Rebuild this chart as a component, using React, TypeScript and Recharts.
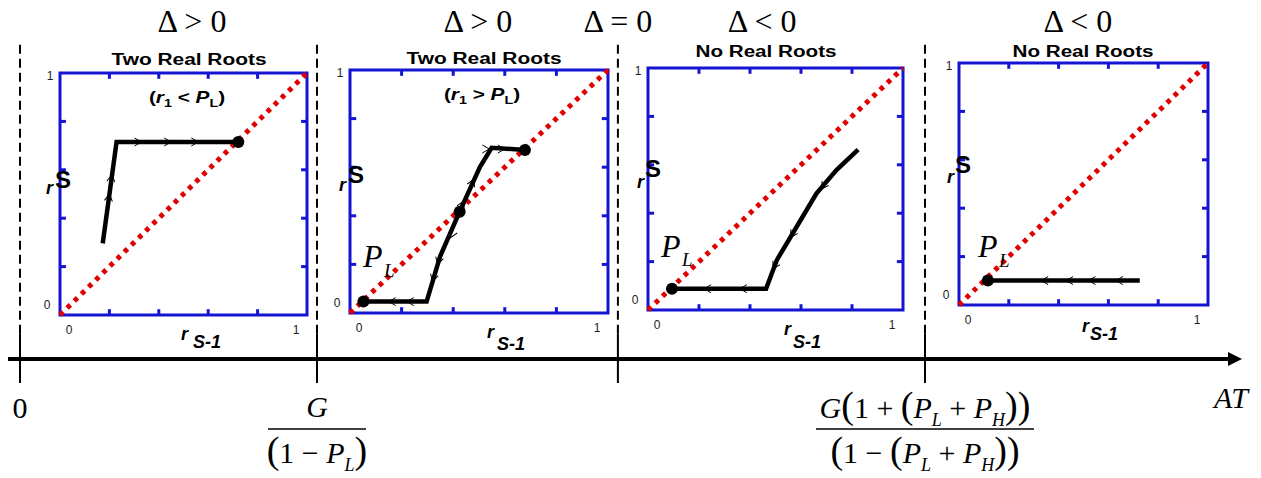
import React from 'react';
import {
  ComposedChart,
  Line,
  Scatter,
  XAxis,
  YAxis,
  ReferenceLine,
  ReferenceArea,
  ReferenceDot,
} from 'recharts';

// ---------------- DATA ----------------
// Main AT axis: regime boundaries (0, G/(1-PL), Δ=0 point, G(1+(PL+PH))/(1-(PL+PH)))
const atBoundaries = [0, 0.9845, 1.982, 3.0];
const atBoundaryKinds = ['zero', 'frac1', 'none', 'frac2'];
const atDomain: [number, number] = [-0.0398, 4.031];
// Δ labels above the panels
const deltaPositions = [0.57, 1.518, 1.982, 2.46, 3.507];
const deltaLabels = ['Δ > 0', 'Δ > 0', 'Δ = 0', 'Δ < 0', 'Δ < 0'];

// Inset panels (r_{S-1} vs r^S)
const innerTicks = [0.2, 0.4, 0.6, 0.8];
const diagonal = [
  { x: 0, y: 0 },
  { x: 1, y: 1 },
];
const path1 = [
  { x: 0.173, y: 0.296 },
  { x: 0.229, y: 0.715 },
  { x: 0.722, y: 0.715 },
];
const dots1 = [{ x: 0.722, y: 0.715 }];
const path2 = [
  { x: 0.052, y: 0.047 },
  { x: 0.297, y: 0.047 },
  { x: 0.349, y: 0.232 },
  { x: 0.425, y: 0.417 },
  { x: 0.504, y: 0.602 },
  { x: 0.549, y: 0.68 },
  { x: 0.678, y: 0.671 },
];
const dots2 = [
  { x: 0.052, y: 0.047 },
  { x: 0.425, y: 0.417 },
  { x: 0.678, y: 0.671 },
];
const path3 = [
  { x: 0.094, y: 0.088 },
  { x: 0.463, y: 0.088 },
  { x: 0.505, y: 0.206 },
  { x: 0.583, y: 0.344 },
  { x: 0.661, y: 0.482 },
  { x: 0.739, y: 0.578 },
  { x: 0.824, y: 0.663 },
];
const dots3 = [{ x: 0.094, y: 0.088 }];
const path4 = [
  { x: 0.116, y: 0.101 },
  { x: 0.726, y: 0.101 },
];
const dots4 = [{ x: 0.116, y: 0.101 }];
// direction chevrons along the trajectories (position + pointing angle in degrees, screen space)
const arrows1 = [
  { x: 0.2, y: 0.5, a: -82 },
  { x: 0.21, y: 0.58, a: -82 },
  { x: 0.33, y: 0.715, a: 0 },
  { x: 0.45, y: 0.715, a: 0 },
  { x: 0.56, y: 0.715, a: 0 },
];
const arrows2 = [
  { x: 0.15, y: 0.047, a: 180 },
  { x: 0.22, y: 0.047, a: 180 },
  { x: 0.32, y: 0.13, a: 105 },
  { x: 0.34, y: 0.2, a: 105 },
  { x: 0.39, y: 0.31, a: 115 },
  { x: 0.44, y: 0.46, a: -65 },
  { x: 0.48, y: 0.55, a: -65 },
  { x: 0.54, y: 0.675, a: 0 },
  { x: 0.6, y: 0.675, a: 0 },
];
const arrows3 = [
  { x: 0.22, y: 0.088, a: 180 },
  { x: 0.36, y: 0.088, a: 180 },
  { x: 0.49, y: 0.17, a: 120 },
  { x: 0.56, y: 0.3, a: 120 },
  { x: 0.68, y: 0.5, a: 125 },
];
const arrows4 = [
  { x: 0.33, y: 0.101, a: 180 },
  { x: 0.43, y: 0.101, a: 180 },
  { x: 0.52, y: 0.101, a: 180 },
  { x: 0.63, y: 0.101, a: 180 },
];
const panelTitles = ['Two Real Roots', 'Two Real Roots', 'No Real Roots', 'No Real Roots'];
const panelConditions = ['<', '>', '', ''];

// ---------------- STYLE / LAYOUT ----------------
const SERIF = '"Liberation Serif", "DejaVu Serif", serif';
const SANS = '"Liberation Sans", Arial, sans-serif';
const BLUE = '#1414D2';
const RED = '#E00000';

type Box = { l: number; t: number; r: number; b: number };
const panelBoxes: Box[] = [
  { l: 60, t: 73, r: 307, b: 315 },
  { l: 350, t: 70, r: 608, b: 313 },
  { l: 648, t: 68, r: 903, b: 310 },
  { l: 959, t: 63, r: 1208, b: 305 },
];
const panelSeries = [
  { path: path1, dots: dots1, arrows: arrows1 },
  { path: path2, dots: dots2, arrows: arrows2 },
  { path: path3, dots: dots3, arrows: arrows3 },
  { path: path4, dots: dots4, arrows: arrows4 },
];
const annot = [
  { tx: 189, ty: 65, tw: 155, sx: 187, sy: 103, rS: [46, 194, 55, 188], rS1: [181, 340, 193, 348], pl: null },
  { tx: 484, ty: 64, tw: 155, sx: 482, sy: 100, rS: [339, 191, 348, 183], rS1: [487, 338, 497, 350], pl: [363, 267, 384, 277] },
  { tx: 766, ty: 57, tw: 141, sx: 0, sy: 0, rS: [637, 188, 645, 177], rS1: [784, 335, 793, 348], pl: [661, 257, 682, 266] },
  { tx: 1083, ty: 57, tw: 141, sx: 0, sy: 0, rS: [947, 183, 955, 173], rS1: [1082, 332, 1090, 340], pl: [978, 257, 999, 267] },
];

const TICK_LEN = 0.024;

function Panel({ box, path, dots, arrows }: { box: Box; path: any[]; dots: any[]; arrows: any[] }) {
  const pad = 8;
  const w = box.r - box.l;
  const h = box.b - box.t;
  const seg = (a: number, b: number, c: number, d: number) => [
    { x: a, y: b },
    { x: c, y: d },
  ];
  return (
    <div style={{ position: 'absolute', left: box.l - pad, top: box.t - pad }}>
      <ComposedChart width={w + 2 * pad} height={h + 2 * pad} margin={{ top: pad, right: pad, bottom: pad, left: pad }}>
        <XAxis type="number" dataKey="x" domain={[0, 1]} hide />
        <YAxis type="number" dataKey="y" domain={[0, 1]} hide />
        <ReferenceArea x1={0} x2={1} y1={0} y2={1} fill="none" fillOpacity={0} stroke={BLUE} strokeWidth={3} />
        {innerTicks.map((t) => (
          <ReferenceLine key={'b' + t} segment={seg(t, 0, t, TICK_LEN)} stroke={BLUE} strokeWidth={3} />
        ))}
        {innerTicks.map((t) => (
          <ReferenceLine key={'t' + t} segment={seg(t, 1, t, 1 - TICK_LEN)} stroke={BLUE} strokeWidth={3} />
        ))}
        {innerTicks.map((t) => (
          <ReferenceLine key={'l' + t} segment={seg(0, t, TICK_LEN, t)} stroke={BLUE} strokeWidth={3} />
        ))}
        {innerTicks.map((t) => (
          <ReferenceLine key={'r' + t} segment={seg(1, t, 1 - TICK_LEN, t)} stroke={BLUE} strokeWidth={3} />
        ))}
        <Line
          data={diagonal}
          dataKey="y"
          stroke={RED}
          strokeWidth={5}
          strokeDasharray="4.5 5.5"
          dot={false}
          activeDot={false}
          isAnimationActive={false}
        />
        <Line
          data={path}
          dataKey="y"
          stroke="#000"
          strokeWidth={4.5}
          dot={false}
          activeDot={false}
          isAnimationActive={false}
        />
        <Scatter
          data={arrows}
          dataKey="y"
          isAnimationActive={false}
          shape={(p: any) => (
            <path
              d={`M ${p.cx - 7} ${p.cy - 4} L ${p.cx} ${p.cy} L ${p.cx - 7} ${p.cy + 4}`}
              transform={`rotate(${p.payload.a} ${p.cx} ${p.cy})`}
              fill="none"
              stroke="#000"
              strokeWidth={1}
            />
          )}
        />
        <Scatter
          data={dots}
          dataKey="y"
          isAnimationActive={false}
          shape={(p: any) => <circle cx={p.cx} cy={p.cy} r={6} fill="#000" />}
        />
      </ComposedChart>
    </div>
  );
}

const DeltaTick = (props: any) => {
  const { x, index } = props;
  return (
    <text x={x} y={32} textAnchor="middle" fontFamily={SERIF} fontSize={32} fill="#000">
      {deltaLabels[index]}
    </text>
  );
};

const BottomTick = (props: any) => {
  const { x, index } = props;
  const kind = atBoundaryKinds[index];
  if (kind === 'zero') {
    return (
      <text x={x} y={418} textAnchor="middle" fontFamily={SERIF} fontSize={30} fill="#000">
        0
      </text>
    );
  }
  if (kind === 'frac1') {
    return (
      <g fontFamily={SERIF} fill="#000">
        <text x={x} y={417} textAnchor="middle" fontSize={30} fontStyle="italic">
          G
        </text>
        <line x1={x - 49} x2={x + 49} y1={429} y2={429} stroke="#000" strokeWidth={1.5} />
        <text x={x} y={463} textAnchor="middle" fontSize={30}>
          <tspan fontSize={38}>(</tspan>
          <tspan>{'1 − '}</tspan>
          <tspan fontStyle="italic">P</tspan>
          <tspan fontStyle="italic" fontSize={18} dy={8}>
            L
          </tspan>
          <tspan fontSize={38} dy={-8}>
            )
          </tspan>
        </text>
      </g>
    );
  }
  if (kind === 'frac2') {
    return (
      <g fontFamily={SERIF} fill="#000">
        <text x={x} y={418} textAnchor="middle" fontSize={30}>
          <tspan fontStyle="italic">G</tspan>
          <tspan fontSize={38}>(</tspan>
          <tspan>{'1 + '}</tspan>
          <tspan fontSize={38}>(</tspan>
          <tspan fontStyle="italic">P</tspan>
          <tspan fontStyle="italic" fontSize={18} dy={8}>
            L
          </tspan>
          <tspan dy={-8}>{' + '}</tspan>
          <tspan fontStyle="italic">P</tspan>
          <tspan fontStyle="italic" fontSize={18} dy={8}>
            H
          </tspan>
          <tspan fontSize={38} dy={-8}>
            ))
          </tspan>
        </text>
        <line x1={x - 109} x2={x + 109} y1={429} y2={429} stroke="#000" strokeWidth={1.5} />
        <text x={x} y={463} textAnchor="middle" fontSize={30}>
          <tspan fontSize={38}>(</tspan>
          <tspan>{'1 − '}</tspan>
          <tspan fontSize={38}>(</tspan>
          <tspan fontStyle="italic">P</tspan>
          <tspan fontStyle="italic" fontSize={18} dy={8}>
            L
          </tspan>
          <tspan dy={-8}>{' + '}</tspan>
          <tspan fontStyle="italic">P</tspan>
          <tspan fontStyle="italic" fontSize={18} dy={8}>
            H
          </tspan>
          <tspan fontSize={38} dy={-8}>
            ))
          </tspan>
        </text>
      </g>
    );
  }
  return <g />;
};

function Annotations() {
  return (
    <svg
      width={1261}
      height={478}
      style={{ position: 'absolute', left: 0, top: 0, pointerEvents: 'none' }}
    >
      {annot.map((a, i) => {
        const box = panelBoxes[i];
        const cond = panelConditions[i];
        return (
          <g key={i} fill="#000">
            <text
              x={a.tx}
              y={a.ty}
              textAnchor="middle"
              fontFamily={SANS}
              fontWeight="bold"
              fontSize={16}
              textLength={a.tw}
              lengthAdjust="spacingAndGlyphs"
            >
              {panelTitles[i]}
            </text>
            {cond && (
              <text
                transform={`translate(${a.sx},${a.sy}) scale(1.3,1)`}
                textAnchor="middle"
                fontFamily={SANS}
                fontWeight="bold"
                fontSize={16}
              >
                <tspan>(</tspan>
                <tspan fontStyle="italic">r</tspan>
                <tspan fontSize={11} dy={4}>
                  1
                </tspan>
                <tspan dy={-4}>{' ' + cond + ' '}</tspan>
                <tspan fontStyle="italic">P</tspan>
                <tspan fontSize={11} dy={4}>
                  L
                </tspan>
                <tspan dy={-4}>)</tspan>
              </text>
            )}
            {/* y-axis label r^S */}
            <text x={a.rS[0]} y={a.rS[1]} fontFamily={SANS} fontWeight="bold" fontStyle="italic" fontSize={18}>
              r
            </text>
            <text x={a.rS[2]} y={a.rS[3]} fontFamily={SANS} fontWeight="bold" fontSize={24}>
              S
            </text>
            {/* x-axis label r_{S-1} */}
            <text x={a.rS1[0]} y={a.rS1[1]} fontFamily={SANS} fontWeight="bold" fontStyle="italic" fontSize={18}>
              r
            </text>
            <text x={a.rS1[2]} y={a.rS1[3]} fontFamily={SANS} fontWeight="bold" fontStyle="italic" fontSize={18}>
              S-1
            </text>
            {/* tick labels */}
            <g fontFamily={SANS} fontSize={12} fill="#222">
              <text x={box.l - 10} y={box.t + 7} textAnchor="middle">
                1
              </text>
              <text x={box.l - 13} y={box.b - 6} textAnchor="middle">
                0
              </text>
              <text x={box.l + 9} y={box.b + 19} textAnchor="middle">
                0
              </text>
              <text x={box.r - 11} y={box.b + 19} textAnchor="middle">
                1
              </text>
            </g>
            {a.pl && (
              <g fontFamily={SERIF} fontStyle="italic">
                <text x={a.pl[0]} y={a.pl[1]} fontSize={32}>
                  P
                </text>
                <text x={a.pl[2]} y={a.pl[3]} fontSize={19}>
                  L
                </text>
              </g>
            )}
          </g>
        );
      })}
    </svg>
  );
}

export default function App() {
  const boundaryData = atBoundaries.map((at) => ({ at, v: 0 }));
  const deltaData = deltaPositions.map((at) => ({ at, v: 0 }));
  return (
    <div
      style={{
        position: 'absolute',
        left: 0,
        top: 0,
        width: 1261,
        height: 478,
        background: '#fff',
        overflow: 'hidden',
      }}
    >
      <div style={{ position: 'absolute', left: 0, top: 0 }}>
        <ComposedChart width={1261} height={478} margin={{ top: 0, right: 25, bottom: 0, left: 8 }}>
          <XAxis
            xAxisId="main"
            type="number"
            dataKey="at"
            domain={atDomain}
            ticks={atBoundaries}
            interval={0}
            orientation="bottom"
            height={119}
            axisLine={{ stroke: '#000', strokeWidth: 4 }}
            tickLine={{ stroke: '#000', strokeWidth: 2 }}
            tickSize={24}
            tick={BottomTick}
            label={{
              content: () => (
                <text x={1248} y={408} textAnchor="end" fontFamily={SERIF} fontStyle="italic" fontSize={30} fill="#000">
                  AT
                </text>
              ),
            }}
          />
          <XAxis
            xAxisId="top"
            type="number"
            dataKey="at"
            domain={atDomain}
            ticks={deltaPositions}
            interval={0}
            orientation="top"
            height={42}
            axisLine={false}
            tickLine={false}
            tick={DeltaTick}
          />
          <YAxis type="number" domain={[0, 1]} hide />
          <Line
            xAxisId="main"
            data={boundaryData}
            dataKey="v"
            stroke="none"
            dot={false}
            activeDot={false}
            isAnimationActive={false}
          />
          <Line
            xAxisId="top"
            data={deltaData}
            dataKey="v"
            stroke="none"
            dot={false}
            activeDot={false}
            isAnimationActive={false}
          />
          {atBoundaries.map((b) => (
            <ReferenceLine
              key={'d' + b}
              xAxisId="main"
              segment={[
                { x: b, y: 0.08 },
                { x: b, y: 1 },
              ]}
              stroke="#000"
              strokeWidth={2}
              strokeDasharray="9 5"
            />
          ))}
          {atBoundaries.map((b) => (
            <ReferenceLine
              key={'s' + b}
              xAxisId="main"
              segment={[
                { x: b, y: 0 },
                { x: b, y: 0.08 },
              ]}
              stroke="#000"
              strokeWidth={2}
            />
          ))}
          <ReferenceDot
            xAxisId="main"
            x={atDomain[1]}
            y={0}
            shape={(p: any) => (
              <polygon
                points={`${p.cx - 8},${p.cy - 7} ${p.cx + 6},${p.cy} ${p.cx - 8},${p.cy + 7}`}
                fill="#000"
              />
            )}
          />
        </ComposedChart>
      </div>
      {panelBoxes.map((box, i) => (
        <Panel
          key={i}
          box={box}
          path={panelSeries[i].path}
          dots={panelSeries[i].dots}
          arrows={panelSeries[i].arrows}
        />
      ))}
      <Annotations />
    </div>
  );
}
